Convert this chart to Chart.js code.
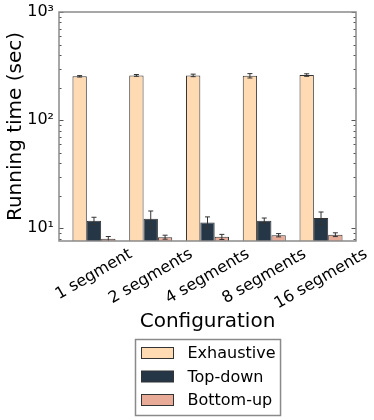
<!DOCTYPE html>
<html lang="en">
<head>
  <meta charset="UTF-8">
  <title>Running time by configuration</title>
  <script src="https://cdn.jsdelivr.net/npm/chart.js"></script>
  <style>
    html, body { margin: 0; padding: 0; background: #fff; }
    .contenedor { width: 374px; height: 420px; }
  </style>
</head>
<body>
  <div class="contenedor">
    <canvas id="grafico"></canvas>
  </div>

  <script>
    // data
    const categories = ['1 segment', '2 segments', '4 segments', '8 segments', '16 segments'];
    const exhaustive = [254, 259, 259, 257, 261];
    const exhaustiveErr = [4, 5, 7, 12, 7];
    const topDown = [11.7, 12.2, 11.3, 11.7, 12.4];
    const topDownErr = [0.9, 2.2, 1.4, 0.7, 1.7];
    const bottomUp = [7.96, 8.25, 8.3, 8.6, 8.7];
    const bottomUpErr = [0.4, 0.35, 0.45, 0.3, 0.35];
    const yTickValues = [10, 100, 1000];
    const yTickLabels = ['10¹', '10²', '10³'];

    const FONT = 'DejaVu Sans';
    const FRAME_INSET = 6.6;

    const ctx = document.getElementById('grafico').getContext('2d');

    // error bars, caps, inward ticks, frame, rotated x labels and boxed legend
    const extras = {
      id: 'extras',
      afterDatasetsDraw(chart) {
        const c = chart.ctx;
        const y = chart.scales.y;
        c.save();
        c.strokeStyle = '#333';
        c.lineWidth = 1;
        chart.data.datasets.forEach((ds, i) => {
          const meta = chart.getDatasetMeta(i);
          meta.data.forEach((bar, j) => {
            const v = ds.data[j], e = ds.err[j];
            const hi = y.getPixelForValue(v + e);
            const lo = Math.min(y.getPixelForValue(v - e), chart.chartArea.bottom);
            c.beginPath();
            c.moveTo(bar.x, hi); c.lineTo(bar.x, lo);
            c.moveTo(bar.x - 2.5, hi); c.lineTo(bar.x + 2.5, hi);
            if (lo < chart.chartArea.bottom) {
              c.moveTo(bar.x - 2.5, lo); c.lineTo(bar.x + 2.5, lo);
            }
            c.stroke();
          });
        });
        c.restore();
      },
      afterDraw(chart) {
        const c = chart.ctx;
        const a = chart.chartArea;
        const y = chart.scales.y;
        const left = a.left - FRAME_INSET, right = a.right + FRAME_INSET;
        c.save();

        // minor / major ticks, inward on both sides
        c.strokeStyle = '#555';
        c.lineWidth = 1;
        for (let d = 0; d <= 3; d++) {
          for (let m = 1; m <= 9; m++) {
            const v = m * Math.pow(10, d);
            if (v < y.min || v > y.max) continue;
            const py = Math.round(y.getPixelForValue(v)) + 0.5;
            const len = m === 1 ? 4.5 : 2.5;
            c.beginPath();
            c.moveTo(left, py); c.lineTo(left + len, py);
            c.moveTo(right, py); c.lineTo(right - len, py);
            c.stroke();
          }
        }

        // frame
        c.strokeStyle = '#8a8a8a';
        c.lineWidth = 1.5;
        c.strokeRect(left, a.top, right - left, a.bottom - a.top);

        // rotated category labels, centred under the middle bar
        c.fillStyle = '#000';
        c.font = '16px "' + FONT + '"';
        c.textAlign = 'center';
        c.textBaseline = 'middle';
        const mid = chart.getDatasetMeta(1);
        categories.forEach((lab, i) => {
          const w = c.measureText(lab).width;
          const h = w * 0.5 + 16 * 1.17 * 0.866;
          c.save();
          c.translate(mid.data[i].x, a.bottom + 4 + h / 2);
          c.rotate(-Math.PI / 6);
          c.fillText(lab, 0, 0);
          c.restore();
        });

        // legend
        c.font = '16px "' + FONT + '"';
        const names = chart.data.datasets.map(ds => ds.label);
        const maxW = Math.max(...names.map(n => c.measureText(n).width));
        const bw = 6 + 32 + 14 + maxW + 5;
        const bh = 76;
        const bx = Math.round((left + right) / 2 - bw / 2) + 0.5;
        const by = 339.5;
        c.strokeStyle = '#8a8a8a';
        c.lineWidth = 1.5;
        c.strokeRect(bx, by, bw, bh);
        c.textAlign = 'left';
        chart.data.datasets.forEach((ds, i) => {
          const cy = by + 13.5 + i * 23.5;
          c.fillStyle = ds.backgroundColor;
          c.fillRect(bx + 6, cy - 5.5, 32, 11);
          c.strokeStyle = '#333';
          c.lineWidth = 1;
          c.strokeRect(bx + 6, cy - 5.5, 32, 11);
          c.fillStyle = '#000';
          c.fillText(ds.label, bx + 52, cy + 1);
        });
        c.restore();
      }
    };

    const data = {
      labels: categories,
      datasets: [
        { label: 'Exhaustive', data: exhaustive, err: exhaustiveErr, backgroundColor: '#ffdab3' },
        { label: 'Top-down', data: topDown, err: topDownErr, backgroundColor: '#253746' },
        { label: 'Bottom-up', data: bottomUp, err: bottomUpErr, backgroundColor: '#e8ab97' }
      ].map(ds => Object.assign(ds, {
        borderColor: '#333',
        borderWidth: 1,
        categoryPercentage: 0.758,
        barPercentage: 1
      }))
    };

    const config = {
      type: 'bar',
      data: data,
      options: {
        responsive: true,
        maintainAspectRatio: false,
        animation: false,
        layout: { padding: { top: 12, right: 24.6, bottom: 0, left: 0 } },
        scales: {
          x: {
            grid: { display: false, drawTicks: false },
            border: { display: false },
            ticks: { display: false },
            title: {
              display: true,
              text: 'Configuration',
              color: '#000',
              font: { family: FONT, size: 20 },
              padding: { top: 0, bottom: 86 }
            },
            afterFit(scale) { scale.height = 179; }
          },
          y: {
            type: 'logarithmic',
            min: 7.6,
            max: 1000,
            grid: { display: false, drawTicks: false },
            border: { display: false },
            ticks: {
              autoSkip: false,
              padding: 11.6,
              color: '#000',
              font: { family: FONT, size: 16 },
              callback: (v) => {
                const k = yTickValues.indexOf(Number(v));
                return k < 0 ? '' : yTickLabels[k];
              }
            },
            title: {
              display: true,
              text: 'Running time (sec)',
              color: '#000',
              font: { family: FONT, size: 20 },
              padding: { top: 4, bottom: 0 }
            },
            afterFit(scale) {
              scale.width = 65.6;
              scale.paddingTop = 0;
              scale.paddingBottom = 0;
            }
          }
        },
        plugins: {
          legend: { display: false },
          tooltip: { enabled: false }
        }
      },
      plugins: [extras]
    };

    const chart = new Chart(ctx, config);
  </script>
</body>
</html>
